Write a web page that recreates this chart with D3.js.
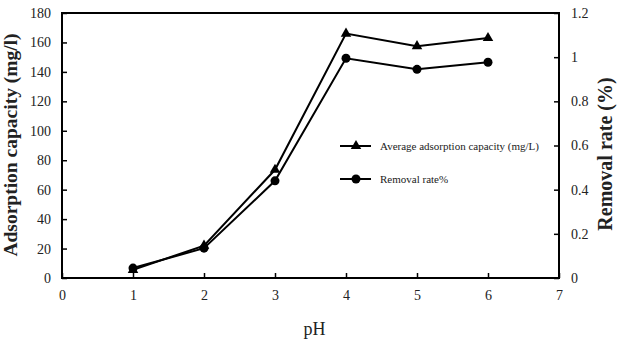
<!DOCTYPE html>
<html>
<head>
<meta charset="utf-8">
<script src="https://cdn.jsdelivr.net/npm/d3@7"></script>
<style>
  body { margin: 0; background: #fff; }
  svg text { font-family: "Liberation Serif", "Times New Roman", serif; fill: #222; }
</style>
</head>
<body>
<div id="chart"></div>
<script>
// values
const phValues = [1, 2, 3, 4, 5, 6];
const capacity = [5.5, 22, 73.5, 166, 157.5, 163];
const removalRate = [0.045, 0.135, 0.44, 0.995, 0.945, 0.977];
const xTicks = [0, 1, 2, 3, 4, 5, 6, 7];
const leftTicks = [0, 20, 40, 60, 80, 100, 120, 140, 160, 180];
const rightTicks = [0, 0.2, 0.4, 0.6, 0.8, 1, 1.2];

const width = 617, height = 344;
const margin = {top: 13, right: 58, bottom: 66, left: 62};
const innerW = width - margin.left - margin.right;
const innerH = height - margin.top - margin.bottom;
const serif = '"Liberation Serif", "Times New Roman", serif';

const svg = d3.select('#chart').append('svg')
    .attr('width', width)
    .attr('height', height);

const g = svg.append('g')
    .attr('transform', `translate(${margin.left},${margin.top})`);

const x = d3.scaleLinear().domain([0, 7]).range([0, innerW]);
const yL = d3.scaleLinear().domain([0, 180]).range([innerH, 0]);
const yR = d3.scaleLinear().domain([0, 1.2]).range([innerH, 0]);

// frame
g.append('rect')
    .attr('width', innerW)
    .attr('height', innerH)
    .attr('fill', 'none')
    .attr('stroke', '#000')
    .attr('stroke-width', 2);

// axes, ticks point inward
function styleAxis(sel) {
    sel.attr('font-family', serif).attr('font-size', 14);
    sel.select('.domain').remove();
    sel.selectAll('line').attr('stroke', '#000').attr('stroke-width', 1.5);
    sel.selectAll('text').attr('fill', '#222');
}

g.append('g')
    .attr('transform', `translate(0,${innerH})`)
    .call(d3.axisBottom(x).tickValues(xTicks).tickSize(-5).tickPadding(12).tickFormat(d3.format('d')))
    .call(styleAxis);

g.append('g')
    .call(d3.axisLeft(yL).tickValues(leftTicks).tickSize(-5).tickPadding(11))
    .call(styleAxis);

g.append('g')
    .attr('transform', `translate(${innerW},0)`)
    .call(d3.axisRight(yR).tickValues(rightTicks).tickSize(-5).tickPadding(12).tickFormat(d => String(+d.toFixed(1))))
    .call(styleAxis);

// axis titles
svg.append('text')
    .attr('x', margin.left + innerW / 2 + 4)
    .attr('y', 335)
    .attr('text-anchor', 'middle')
    .style('font-size', '18px')
    .text('pH');

svg.append('text')
    .attr('transform', `translate(17,145) rotate(-90)`)
    .attr('text-anchor', 'middle')
    .style('font-size', '19.5px')
    .style('font-weight', 'bold')
    .text('Adsorption capacity (mg/l)');

svg.append('text')
    .attr('transform', `translate(612,154) rotate(-90)`)
    .attr('text-anchor', 'middle')
    .style('font-size', '20px')
    .style('font-weight', 'bold')
    .text('Removal rate (%)');

// series
const capPts = phValues.map((p, i) => [x(p), yL(capacity[i])]);
const ratePts = phValues.map((p, i) => [x(p), yR(removalRate[i])]);
const line = d3.line();
const tri = d3.symbol().type(d3.symbolTriangle).size(48);

g.append('path').attr('d', line(capPts))
    .attr('fill', 'none').attr('stroke', '#000').attr('stroke-width', 2);
g.append('path').attr('d', line(ratePts))
    .attr('fill', 'none').attr('stroke', '#000').attr('stroke-width', 2);

g.selectAll('path.tri')
    .data(capPts)
    .join('path')
    .classed('tri', true)
    .attr('d', tri)
    .attr('transform', d => `translate(${d[0]},${d[1]})`)
    .attr('fill', '#000');

g.selectAll('circle.dot')
    .data(ratePts)
    .join('circle')
    .classed('dot', true)
    .attr('cx', d => d[0])
    .attr('cy', d => d[1])
    .attr('r', 4.5)
    .attr('fill', '#000');

// legend
const legend = svg.append('g').attr('transform', 'translate(340,146)');
const items = [
    {label: 'Average adsorption capacity (mg/L)', mark: 'tri'},
    {label: 'Removal rate%', mark: 'dot'}
];
const rows = legend.selectAll('g')
    .data(items)
    .join('g')
    .attr('transform', (d, i) => `translate(0,${i * 33})`);
rows.append('line')
    .attr('x1', 0).attr('x2', 31)
    .attr('stroke', '#000').attr('stroke-width', 2);
rows.each(function(d) {
    const r = d3.select(this);
    if (d.mark === 'tri')
        r.append('path').attr('d', tri).attr('transform', 'translate(16,0)').attr('fill', '#000');
    else
        r.append('circle').attr('cx', 16).attr('r', 4.5).attr('fill', '#000');
});
rows.append('text')
    .attr('x', 40)
    .attr('dy', '0.32em')
    .style('font-size', '11px')
    .text(d => d.label);
</script>
</body>
</html>
